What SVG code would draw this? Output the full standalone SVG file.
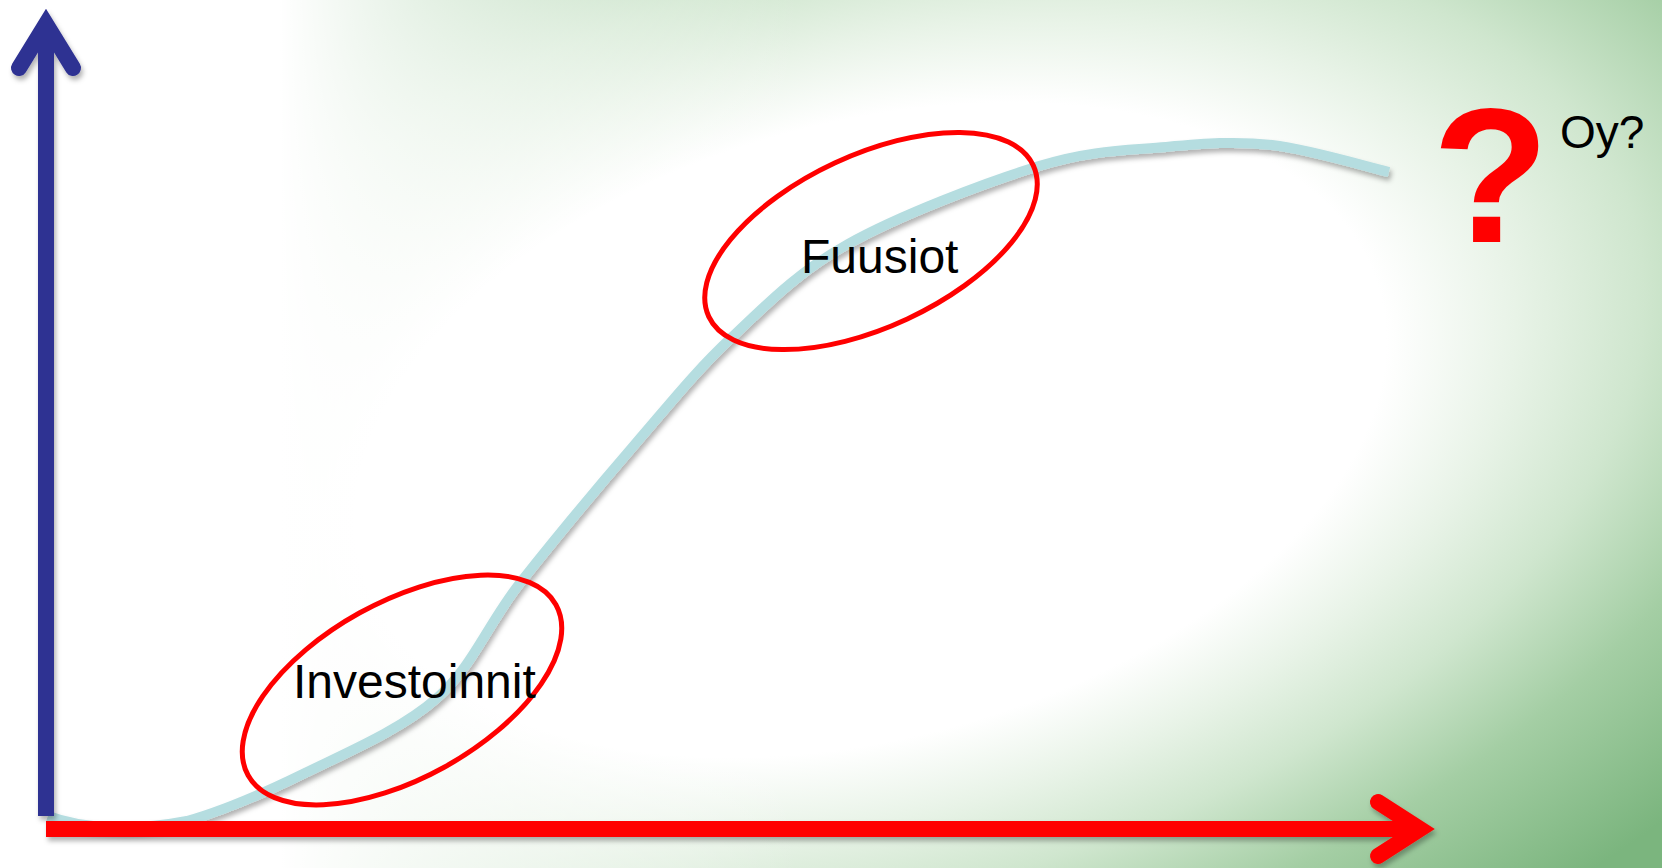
<svg xmlns="http://www.w3.org/2000/svg" width="1662" height="868" viewBox="0 0 1662 868">
  <defs>
    <radialGradient id="bgGreen" gradientUnits="userSpaceOnUse" cx="0" cy="0" r="1" gradientTransform="translate(870,430) rotate(-15) scale(1200,700)">
      <stop offset="0" stop-color="#ffffff"/>
      <stop offset="0.44" stop-color="#ffffff"/>
      <stop offset="0.55" stop-color="#e8f3e7"/>
      <stop offset="0.66" stop-color="#cfe6ce"/>
      <stop offset="0.8" stop-color="#a4cea4"/>
      <stop offset="1" stop-color="#7bb57e"/>
    </radialGradient>
    <linearGradient id="leftWhite" gradientUnits="userSpaceOnUse" x1="0" y1="0" x2="800" y2="0">
      <stop offset="0" stop-color="#ffffff" stop-opacity="1"/>
      <stop offset="0.35" stop-color="#ffffff" stop-opacity="1"/>
      <stop offset="1" stop-color="#ffffff" stop-opacity="0"/>
    </linearGradient>
    <filter id="shadow" x="-5%" y="-5%" width="110%" height="120%">
      <feDropShadow dx="2" dy="4" stdDeviation="2.5" flood-color="#000000" flood-opacity="0.3"/>
    </filter>
  </defs>
  <style>
    .lbl { font-family: "Liberation Sans", Arial, sans-serif; fill: #000000; }
    .ring { fill: none; stroke: #ff0000; stroke-width: 5; }
    .axis-x { fill: none; stroke: #ff0000; stroke-width: 16; }
    .axis-y { fill: none; stroke: #2e3192; stroke-width: 16; }
  </style>

  <rect x="0" y="0" width="1662" height="868" fill="url(#bgGreen)"/>
  <rect x="0" y="0" width="1662" height="868" fill="url(#leftWhite)"/>

  <g id="connectors">
    <path id="s-curve" filter="url(#shadow)" fill="none" stroke="#b5dde0" stroke-width="10" stroke-linecap="butt"
      d="M48,816 C80,828 130,832 187,821 C219,812 263.3,793.5 305,773 C346.7,752.5 401.2,729.7 437,698 C472.8,666.3 486.8,625.5 520,583 C554.3,539.7 600.8,483.8 636,443 C671.2,402.2 695.7,371.2 731,338 C766.3,304.8 796.7,272.7 848,244 C899.3,215.3 986,182.2 1039,166 C1092,149.8 1127.2,150.5 1166,147 C1204.8,143.5 1234.8,140.8 1272,145 C1309.2,149.2 1369.5,167.5 1389,172"/>
  </g>

  <g id="axes" filter="url(#shadow)">
    <g id="y-axis">
      <line class="axis-y" x1="46" y1="816" x2="46" y2="26"/>
      <polyline class="axis-y" points="19,68 46,24 73,68" stroke-linecap="round" stroke-linejoin="miter"/>
    </g>
    <g id="x-axis">
      <line class="axis-x" x1="46" y1="829" x2="1418" y2="829"/>
      <polyline class="axis-x" points="1378,802 1420,829 1378,856" stroke-linecap="round" stroke-linejoin="miter"/>
    </g>
  </g>

  <g id="node-investoinnit">
    <ellipse class="ring" cx="402" cy="690" rx="176" ry="88" transform="rotate(-29 402 690)"/>
    <text class="lbl" x="293" y="698" font-size="48">Investoinnit</text>
  </g>

  <g id="node-fuusiot">
    <ellipse class="ring" cx="871" cy="241" rx="179" ry="86" transform="rotate(-25 871 241)"/>
    <text class="lbl" x="801" y="273" font-size="48">Fuusiot</text>
  </g>

  <g id="node-question">
    <text x="1432" y="242" font-family="'Liberation Sans', Arial, sans-serif" font-weight="bold" font-size="192" fill="#ff0000">?</text>
  </g>

  <g id="node-oy">
    <text class="lbl" x="1560" y="148" font-size="46">Oy?</text>
  </g>
</svg>
